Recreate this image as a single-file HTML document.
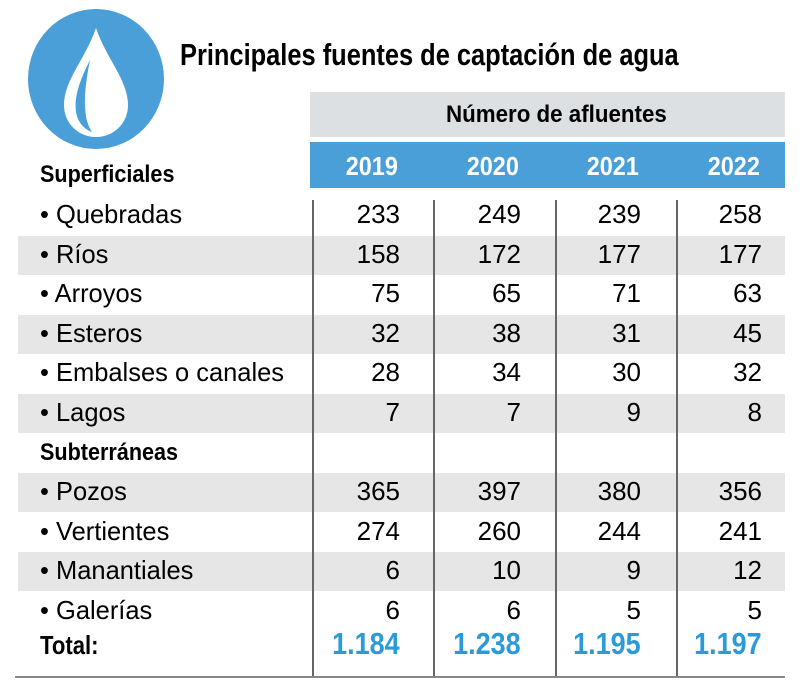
<!DOCTYPE html>
<html><head><meta charset="utf-8">
<style>
body{margin:0;width:810px;height:688px;background:#fff;position:relative;overflow:hidden;font-family:"Liberation Sans",sans-serif;}
.a{position:absolute;}
.t{position:absolute;white-space:nowrap;transform-origin:left center;}
.n{position:absolute;white-space:nowrap;transform-origin:right center;text-align:right;}
</style></head><body>
<svg class="a" style="left:26px;top:8px" width="140" height="142" viewBox="0 0 140 142">
<ellipse cx="70" cy="71" rx="68" ry="70" fill="#4a9fd8"/>
<path d="M70 20 C60 50 38 72 38 97 C38 116 53 129 70 129 C87 129 102 116 102 97 C102 72 80 50 70 20 Z" fill="#fff"/>
<path d="M64 52 C54 72 48 88 50 104 C52 116 60 122 66 124 C58 112 56 92 64 52 Z" fill="#4a9fd8"/>
</svg>
<div class="t" style="left:180px;top:37px;font-size:31px;font-weight:bold;transform:scaleX(0.82);">Principales fuentes de captación de agua</div>
<div class="a" style="left:310px;top:92px;width:475px;height:45px;background:#dde0e3"></div>
<div class="t" style="left:446px;top:101px;font-size:24px;font-weight:bold;transform:scaleX(0.93);">Número de afluentes</div>
<div class="a" style="left:310px;top:142px;width:475px;height:46px;background:#4a9fd8"></div>
<script>
const years=["2019","2020","2021","2022"];
const labels=["Quebradas","Ríos","Arroyos","Esteros","Embalses o canales","Lagos",null,"Pozos","Vertientes","Manantiales","Galerías"];
const v2019=[233,158,75,32,28,7,null,365,274,6,6];
const v2020=[249,172,65,38,34,7,null,397,260,10,6];
const v2021=[239,177,71,31,30,9,null,380,244,9,5];
const v2022=[258,177,63,45,32,8,null,356,241,12,5];
const totals=["1.184","1.238","1.195","1.197"];
const series=[v2019,v2020,v2021,v2022];
const colRight=[400,521,641,762];
const body=document.body;
function mk(cls,txt,css){const d=document.createElement('div');d.className=cls;d.textContent=txt;d.style.cssText=css;body.appendChild(d);return d;}
const rowTop=i=>196+i*39.6;
labels.forEach((l,i)=>{
  if(i%2===1){const g=mk('a','', `left:18px;top:${rowTop(i)}px;width:767px;height:39px;background:#e6e6e7`);
    
    }
});
[312,433,555,676].forEach(x=>{const d=mk('a','',`left:${x}px;top:200px;width:1.5px;height:477px;background:#666`);
  
  });
const bl=mk('a','',`left:15px;top:676px;width:770px;height:2px;background:#888`);


years.forEach((y,j)=>{const d=mk('n',y,`right:${810-colRight[j]+2}px;top:151px;font-size:26px;font-weight:bold;color:#fff;transform:scaleX(0.9);`);
  
  });
const s1=mk('t','Superficiales','left:40px;top:161px;font-size:24px;font-weight:bold;transform:scaleX(0.9);');


labels.forEach((l,i)=>{
  const top=rowTop(i)+4;
  if(l===null){const s=mk('t','Subterráneas',`left:40px;top:${top+1}px;font-size:24px;font-weight:bold;transform:scaleX(0.9);`);
    
    return;}
  const d=mk('t','• '+l,`left:40px;top:${top-1}px;font-size:26px;transform:scaleX(0.98);`);
  
  
  series.forEach((s,j)=>{const c=mk('n',String(s[i]),`right:${810-colRight[j]}px;top:${top-1}px;font-size:26px;transform:scaleX(1.0);`);
    
    });
});
const tl=mk('t','Total:',`left:40px;top:630px;font-size:26px;font-weight:bold;transform:scaleX(0.85);`);


totals.forEach((t,j)=>{const c=mk('n',t,`right:${810-colRight[j]}px;top:626px;font-size:31px;font-weight:bold;color:#2a9ad8;transform:scaleX(0.87);`);
  
  });
</script>
</body></html>
